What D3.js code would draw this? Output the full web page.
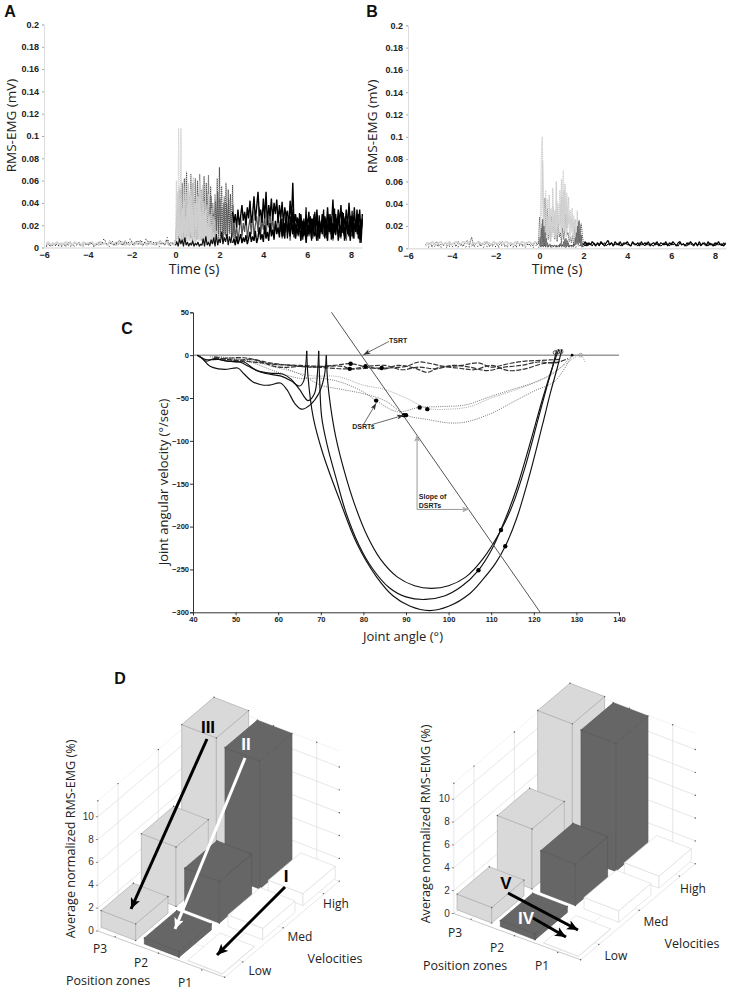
<!DOCTYPE html>
<html><head><meta charset="utf-8">
<style>html,body{margin:0;padding:0;background:#fff}svg{display:block}</style>
<script src="https://cdn.jsdelivr.net/npm/d3@7"></script></head><body><svg id="c" width="732" height="990"></svg>
<script>
// ---------- Panels A, B (values in thousandths of a mV) ----------
const emgTicksY=[0,0.02,0.04,0.06,0.08,0.1,0.12,0.14,0.16,0.18,0.2];
const emgTicksX=[-6,-4,-2,0,2,4,6,8];
const aLightBase=[3,5,2,4,3,5,2,4,3,5,3,4,2,5,3,4,2,5,3,4,3,5,2,4,3,5,3,4,2,5,3,4,2,5,3,5,2,4,3,5,2,4,3,5,3,4,2,5,3,4,2,5,3,4,3,5,2,4,3,6];
const aDarkBase=[2,3,1,4,2,3,4,2,3,1,4,5,2,4,3,5,2,3,4,2,5,3,1,4,2,5,3,4,2,6,3,2,5,3,4,2,6,3,2,5,3,4,6,3,2,5,3,6,4,2,5,3,6,4,2,7,3,5,2,7];
const aBlackBase=[1,2,1,3,1,2,1,2,3,1,2,1,3,2,1,3,2,4,1,2,5,2,8,3,1,6,2,4,7,2,5,3,8,2,6,3,7,2,8,3,6,4,3,1,5,2,9,1,4,2,8];
const aBlackBurst=[2,5,1,8,3,7,1,9,2,5,1,4,2,6,1,4,2,5,1,3,2,8,1,10,2,5,1,7,3,9,1,12,2,8,4,14,3,9,5,12,2,10,4,13];
const aLightBurst=[5,60,40,18,107,5,8,107,10,40,8,55,5,62,10,48,6,58,9,52,4,47,7,63,8,40,5,52,10,45,7,60,6,50,8,56,4,42,10,55,6,38,9,48,5,30,7,35,4,28,6,25,3,15,4];
const aLightBurst2=[7,30,50,14,55,8,44,12,35,6,48,14,28,8,50,12,38,6,42,14,52,10,34,7,44,16,36,5,48,12,40,6,44,10,32,6,40,8,26,5,34,8,22,5,28,6,18,4,20,5,10,3];
const aLightBurst3=[4,18,38,10,30,16,26,5,34,20,42,8,24,14,36,18,46,6,30,12,38,22,28,5,40,16,32,20,46,10,34,18,28,7,36,14,30,6,22,12,18,5,14,8,12,4,10,3];
const aDarkBurst=[6,20,45,8,52,10,58,12,62,8,68,15,50,10,66,9,58,12,62,14,60,8,66,11,52,15,64,7,58,10,65,12,55,9,40,14,48,8,62,12,72,10,55,7,40,12,58,9,52,14,48,10,56,8];
const aDarkBurst2=[4,12,30,6,36,8,40,7,44,6,38,10,46,8,40,6,44,9,36,7,48,10,42,6,38,8,44,6,50,12,36,8,46,10,30,6,42,10,50,8,44,12,36,5,46,10,40,7,44,12,30,8,38,6];
const aBlackUpper=[32,22,30,18,34,20,28,38,24,32,20,36,26,42,22,30,46,24,36,50,28,34,22,44,26,50,20,38,28,44,24,40,30,43,22,38,26,41,20,36,28,33,18,42,24,58,16,30,22,26,14,30,18,24,12,28,18,32,14,26,18,30,12,34,16,24,14,30,20,28,16,36,14,26,20,43,16,30,18,34,22,38,16,28,20,34,18,40,22,28,16,36,14,30,18,34,12,30];
const aBlackLower=[4,8,2,10,3,7,12,4,9,5,11,3,8,14,5,10,6,15,4,9,18,7,12,5,20,8,14,6,22,10,16,7,24,12,18,9,26,10,20,8,28,14,22,10,24,12,28,8,18,12,24,6,20,10,16,4,22,12,18,8,26,10,14,6,24,8,20,12,28,10,16,6,30,14,22,8,18,12,26,6,20,10,32,14,8,24,12,18,6,28,10,22,14,34,8,20,4,26];
const aBlackDense=[14,26,10,22,16,30,8,24,12,28,18,34,9,22,15,27,11,31,17,24,7,26,13,36,10,20,16,28,6,24,12,32,19,25,9,29,14,22,18,34,8,26,12,24,16,30,7,22,15,35,11,25,18,28,9,23,13,31,6,26,17,24,10,29,14,33,8,21,16,27,12,30,7,25];
const aGreyMid=[12,24,8,20,6,16,28,10,22,14,30,8,18,26,12,32,10,20,28,14,36,12,24,16,30,10,26,18,34,14,28,10,22,16,32,12,26,8,20,14,28,10,22,6,24,12,30,8,18,10,16,6,24,12,20,8,26,10,14,22,8,28,12,18,6,24,14,20,10,26,8,16,22,12,28,6,18,14,24,10,20,8,26,12,16,6,22,14,28,10,18,8,24,12,20,4,16,22];
const bLightBase=[4,5,3,6,4,3,5,6,3,5,4,6,3,5,6,4,3,6,5,4,6,3,5,4,6,5,3,6,4,5,3,6,5,4,6,3,5,6,4,5,3,6,5,4,6,5,3,6,5,4,6,5];
const bDarkBase=[3,5,2,4,6,2,4,3,5,2,4,3,5,2,6,3,2,5,7,3,10,2,4,6,2,5,3,6,2,4,3,5,2,4,6,3,2,5,3,4,2,6,3,4,2,5,3,4,2,6,3,7];
const bLightBurst=[6,30,80,100,40,12,30,52,14,44,8,48,16,36,10,54,20,30,12,60,18,40,14,52,22,62,28,70,24,58,30,50,18,46,22,34,14,36,10,30,18,26,12,34,8,20,10,5];
const bLightBurst2=[4,18,50,78,22,8,20,36,8,28,12,30,6,24,14,38,10,34,8,42,12,30,20,40,14,46,18,52,16,44,10,38,22,30,8,26,18,28,6,24,10,20,8,24,6,14,4];
const bDarkBurst=[4,28,10,22,5,15,45,12,35,8,20,6,28,14,26,8,18,6,22,10,14,5,20,8,16,30,12,14,6,10,5,12,4,18,8,6,10,25,18,22,12,4];
const bDarkFill=[2,10,1,18,2,26,1,20,2,14,1,9,2,5,1,3,2,4,1,3,2,3,1,2,2,3,1,2,3,1,2,3,1,4,2,5,1,3,2,6,1,8,2,9,1,7,2,5,1,3,2,3,1,2,3,1,4,2,9,3,14,4,20,3,24,5,18,2,12,1,5,1];
const bBlackBase=[3,1,2,1,3,2,1,3,1,2,1,3,1,2,4,1,2,1,3,1,2,3,1,2,1,3,1,2,1,3,2,1,3,1,2,1,3,2,1,4,2,1,3,1,2,3,1,2,1,3,1,2,3,1,2,1,4,1,2,3,1,5,2];
const bBlackTail=[3,6,2,5,3,6,4,2,5,3,6,4,2,5,7,3,5,2,6,4,3,6,2,5,4,6,3,2,6,4,3,5,2,6,3,5,3,6,2,4,5,3,6,2,5,4,3,6,2,5,3,6,4,2,5,6,3,4,2,5,3,6,4,3,5,2,6,3,4,5,2,6,3,4,2,5,3,6,3,4,2,5];
const bBlackTail2=[4,2,5,3,4,2,5,3,4,2,5,3,5,2,4,3,5,2,4,3,5,2,4,3,5,3,4,2,5,3,4,2,5,3,4,2,5,3,4,3,2,5,3,4,2,3,5,3,4,2,5,3,4,3,2,5,3,4,3,2,5,4,3,2,5,3,4,2,5,3,4,2,5,3,4,2,5,3,4,2,5,3];

// ---------- Panel C ----------
const cTicksX=[40,50,60,70,80,90,100,110,120,130,140];
const cTicksY=[50,0,-50,-100,-150,-200,-250,-300];
const fastU1=[[71.3,0],[71.6,-30],[72.3,-60],[73.5,-95],[75.5,-135],[78,-175],[81,-212],[84,-238],[88,-259],[92,-269],[96,-272],[100,-269],[104,-259],[108,-238],[112.3,-204],[115,-175],[118,-130],[121,-75],[123,-38],[124.5,-12],[125.3,5]];
const fastU2=[[69.5,5],[69.7,-25],[70.2,-72],[71.5,-105],[73.5,-142],[76,-185],[79,-222],[82,-248],[86,-271],[90,-282],[94.5,-285],[99,-281],[103,-270],[107,-251],[110,-228],[113,-195],[116,-155],[119,-105],[122,-52],[124.5,-12],[125.9,7]];
const fastU3=[[66.7,5],[67,-25],[68.2,-72],[70.5,-115],[74.5,-170],[78.5,-220],[83,-258],[87,-281],[91,-293],[95.5,-298],[100,-293],[105,-278],[108,-262],[111,-243],[113.3,-223],[116,-190],[119,-140],[122,-82],[124,-42],[125.5,-15],[126.6,7]];
const fastPre1=[[41,0],[42,-3],[43,-7],[45,-4],[47,-6],[50,-8],[52,-8],[54,-15],[56,-20],[59,-23],[61,-25],[63,-30],[65,-36],[66,-30],[66.5,-10],[66.7,5]];
const fastPre2=[[41,0],[43,-5],[46,-5],[48,-7],[51,-8],[53,-13],[55,-18],[58,-21],[61,-22],[63,-28],[65,-40],[67,-53],[68.5,-45],[69.3,-15],[69.5,5]];
const fastPre3=[[41,0],[42,-3],[44,-13],[46,-16],[48,-16.5],[50.5,-15],[52,-22],[54,-31],[56,-34.5],[58,-35],[60.5,-32.5],[62,-40],[64,-57],[65.5,-63],[67.5,-58],[69.5,-45],[70.8,-25],[71.3,0]];
const medium1=[[44,-2],[50,-5],[58,-10],[65,-22],[70,-35],[75,-40],[80,-45],[85,-53],[90,-70],[95,-75],[100,-79],[104,-78],[110,-68],[115,-55],[120,-42],[125,-30],[129,0]];
const medium2=[[45,-2],[52,-6],[60,-20],[65,-27],[70,-27],[75,-32],[80,-43],[83,-53],[88,-66],[93,-61],[98,-60],[104,-58],[110,-48],[115,-40],[120,-32],[125,-20],[129,0]];
const medium3=[[44,-1],[52,-5],[60,-15],[68,-24],[74,-25],[80,-35],[85,-40],[90,-50],[95,-62],[100,-63],[105,-60],[110,-50],[116,-40],[122,-28],[127,-12],[131,0],[132,-8]];
const slow1=[[45,-2],[48,-5],[52,-7],[56,-9],[60,-11],[65,-12],[70,-13],[75,-13],[77,-16],[82,-15],[86,-15],[90,-13],[93,-8],[96,-10],[99,-13],[103,-12],[107,-9],[110,-14],[114,-10],[118,-7],[122,-6],[126,-5]];
const slow2=[[47,-4],[52,-3],[58,-9],[63,-12],[68,-14],[73,-12],[77,-10],[81,-14],[85,-16],[88,-12],[92,-15],[95,-20],[98,-14],[102,-15],[106,-17],[110,-12],[114,-18],[118,-16],[122,-10],[126,-8]];
const slow3=[[45,-3],[50,-6],[54,-5],[60,-14],[66,-13],[72,-15],[77,-16],[81,-13],[85,-12],[89,-17],[93,-14],[97,-16],[101,-12],[105,-14],[109,-18],[113,-14],[117,-12],[121,-8],[125,-9],[128,-4]];
const dsrtDots=[[77,-10],[76.8,-16],[80.5,-13],[84.3,-15],[83,-53],[89.5,-70],[90,-70],[93.2,-61],[95,-63],[107,-251],[112.3,-204],[113.3,-223]];
const endRings=[[125,3],[125.7,4],[126.4,4],[131,0]];
const slopeLine=[[72.5,50],[121.5,-300]];

// ---------- Panel D ----------
const heightsLeft={light:[1.46,5.2,11.75],dark:[0.52,3.64,11.2],blank:[0.02,1,1.05]};
const heightsRight={light:[1.37,5.25,11.45],dark:[0.52,3.64,11.2],blank:[0.02,1,1.05]};
const zTicks=[0,2,4,6,8,10];
const posLabels=["P3","P2","P1"];
const velLabels=["Low","Med","High"];

const svg=d3.select("#c");
svg.append("rect").attr("width",732).attr("height",990).attr("fill","#fff");
const FS="Liberation Sans, Arial, sans-serif";
const LS="'Open Sans', sans-serif";
const defs=svg.append("defs");
function mk(id,color,w,h){
  defs.append("marker").attr("id",id).attr("viewBox",`0 0 ${w} ${h}`).attr("refX",w).attr("refY",h/2)
    .attr("markerWidth",w).attr("markerHeight",h).attr("markerUnits","userSpaceOnUse").attr("orient","auto")
    .append("path").attr("d",`M0,0L${w},${h/2}L0,${h}L${w*0.25},${h/2}Z`).attr("fill",color);
}
mk("hk","#333",7,5);mk("hg","#aaa",7,6);mk("hb","#000",11,10);mk("hw","#fff",11,10);

function text(x,y,s,o={}){
  const t=svg.append("text").attr("x",x).attr("y",y).text(s)
    .attr("font-family",o.font||LS).attr("font-size",o.size||13).attr("fill",o.fill||"#222")
    .attr("text-anchor",o.anchor||"middle").attr("font-weight",o.weight||400);
  if(o.rot) t.attr("transform",`rotate(${o.rot} ${x} ${y})`);
  return t;
}

// ---------- EMG panel ----------
function emgPanel(r,traces){
  const x=d3.scaleLinear().domain([-6,8.5]).range([r.x0,r.x0+14.5*21.93]);
  const y=d3.scaleLinear().domain([0,0.2]).range([r.y0,r.y0-223]);
  const line=d3.line().x(d=>d[0]).y(d=>d[1]);
  const g=svg.append("g");
  traces.forEach(tr=>{
    const pts=tr.v.map((v,i)=>[x(tr.t0+i*tr.dt),y(v*0.001)]);
    g.append("path").attr("d",line(pts)).attr("fill","none").attr("stroke",tr.c).attr("stroke-width",tr.w)
      .attr("stroke-dasharray",tr.dash||null).attr("stroke-linejoin","bevel");
  });
  const ay=svg.append("g").attr("transform",`translate(${r.x0},0)`).call(d3.axisLeft(y).tickValues(emgTicksY).tickSize(2).tickFormat(d=>d===0?"0":String(d)));
  const ax=svg.append("g").attr("transform",`translate(0,${r.y0})`).call(d3.axisBottom(x).tickValues(emgTicksX).tickSize(0).tickPadding(4));
  [ay,ax].forEach(a=>{a.select(".domain").attr("stroke","#ddd");a.selectAll(".tick line").attr("stroke","#aaa");
    a.selectAll("text").attr("font-family",FS).attr("font-size",9).attr("font-weight",700).attr("fill","#222");});
  ax.select(".domain").attr("stroke","#e2e2e2").attr("stroke-width",1.5);
  text(r.labelX,r.y0-122,"RMS-EMG (mV)",{rot:-90,size:13.5});
  text(r.timeX,r.y0+26,"Time (s)",{size:14});
}
const D2="1.2 0.8";
emgPanel({x0:44,y0:247.5,labelX:16,timeX:194},[
  {t0:-5.9,dt:0.1,v:aDarkBase,c:"#555",w:1,dash:D2},
  {t0:0,dt:0.05,v:aDarkBurst,c:"#555",w:1.1,dash:D2},
  {t0:0.02,dt:0.05,v:aDarkBurst2,c:"#555",w:1.1,dash:D2},
  {t0:-5.9,dt:0.1,v:aLightBase,c:"#d2d2d2",w:1.8},
  {t0:0,dt:0.035,v:aLightBurst,c:"#ccc",w:1.1,dash:D2},
  {t0:0.02,dt:0.034,v:aLightBurst2,c:"#d0d0d0",w:1.6,dash:D2},
  {t0:0.03,dt:0.036,v:aLightBurst3,c:"#cfcfcf",w:1.8,dash:D2},
  {t0:-5.9,dt:0.12,v:aBlackBase,c:"#111",w:1,dash:"1 2.5"},
  {t0:0,dt:0.06,v:aBlackBurst,c:"#111",w:1.2},
  {t0:2.6,dt:0.061,v:aGreyMid,c:"#555",w:1.2},
  {t0:2.6,dt:0.061,v:aBlackLower,c:"#000",w:1.4},
  {t0:4.8,dt:0.05,v:aBlackDense,c:"#000",w:1.2},
  {t0:2.6,dt:0.061,v:aBlackUpper,c:"#000",w:1.4}
]);
emgPanel({x0:408,y0:248.3,labelX:377,timeX:557},[
  {t0:-5.1,dt:0.1,v:bDarkBase,c:"#555",w:1,dash:D2},
  {t0:-5.2,dt:0.1,v:bLightBase,c:"#d2d2d2",w:1.5},
  {t0:-0.05,dt:0.05,v:bDarkBurst,c:"#555",w:1,dash:D2},
  {t0:0,dt:0.04,v:bLightBurst,c:"#ccc",w:1.3,dash:D2},
  {t0:0.02,dt:0.04,v:bLightBurst2,c:"#d0d0d0",w:1.6,dash:D2},
  {t0:0,dt:0.028,v:bDarkFill,c:"#666",w:0.9},
  {t0:-5.2,dt:0.12,v:bBlackBase,c:"#111",w:1,dash:"1 2.5"},
  {t0:2,dt:0.08,v:bBlackTail,c:"#000",w:1.2},
  {t0:2,dt:0.08,v:bBlackTail2,c:"#000",w:1}
]);

// ---------- Panel C ----------
const cx=d3.scaleLinear().domain([40,140]).range([193,619]);
const cy=d3.scaleLinear().domain([-300,50]).range([612.3,312.3]);
const cLine=d3.line().x(d=>cx(d[0])).y(d=>cy(d[1])).curve(d3.curveCatmullRom.alpha(0.5));
const cg=svg.append("g");
const straight=d3.line().x(d=>cx(d[0])).y(d=>cy(d[1]));
cg.append("path").attr("d",straight([[40,0],[140,0]])).attr("stroke","#666").attr("stroke-width",1).attr("fill","none");
[[medium1,"#666"],[medium2,"#666"],[medium3,"#999"]].forEach(([d,c])=>cg.append("path").attr("d",cLine(d)).attr("fill","none").attr("stroke",c).attr("stroke-width",0.9).attr("stroke-dasharray","1 1.2"));
[slow1,slow2,slow3].forEach(d=>cg.append("path").attr("d",cLine(d)).attr("fill","none").attr("stroke","#333").attr("stroke-width",1.2).attr("stroke-dasharray","5 1.5"));
[fastPre1,fastPre2,fastPre3,fastU1,fastU2,fastU3].forEach(d=>cg.append("path").attr("d",cLine(d)).attr("fill","none").attr("stroke","#111").attr("stroke-width",1.15));
cg.append("path").attr("d",straight(slopeLine)).attr("stroke","#555").attr("stroke-width",1).attr("fill","none");
cg.selectAll(".dsrt").data(dsrtDots).join("circle").attr("cx",d=>cx(d[0])).attr("cy",d=>cy(d[1])).attr("r",2.2).attr("fill","#000");
cg.selectAll(".ring").data(endRings).join("circle").attr("cx",d=>cx(d[0])).attr("cy",d=>cy(d[1])).attr("r",1.9).attr("fill","none").attr("stroke",(d,i)=>i==3?"#999":"#333").attr("stroke-width",0.8);
cg.append("circle").attr("cx",cx(129)).attr("cy",cy(0)).attr("r",1.3).attr("fill","#000");
const cay=svg.append("g").attr("transform","translate(193,0)").call(d3.axisLeft(cy).tickValues(cTicksY).tickSize(3).tickPadding(1));
const cax=svg.append("g").attr("transform","translate(0,612.3)").call(d3.axisBottom(cx).tickValues(cTicksX).tickSize(3).tickPadding(1));
[cay,cax].forEach(a=>{a.select(".domain").attr("stroke","#333");a.selectAll(".tick line").attr("stroke","#333");
  a.selectAll("text").attr("font-family",FS).attr("font-size",7.5).attr("font-weight",700).attr("fill","#222");});
text(168,482,"Joint angular velocity (°/sec)",{rot:-90,size:13});
text(403,641,"Joint angle (°)",{size:13});
function cAnn(from,to,marker,color,w){
  svg.append("line").attr("x1",cx(from[0])).attr("y1",cy(from[1])).attr("x2",cx(to[0])).attr("y2",cy(to[1]))
    .attr("stroke",color).attr("stroke-width",w).attr("marker-end",marker?`url(#${marker})`:null);
}
cAnn([86,16],[80,0.5],"hk","#444",0.8);
text(cx(86),cy(14),"TSRT",{font:FS,size:7,weight:700,anchor:"start"});
text(cx(77.4),cy(-86.5),"DSRTs",{font:FS,size:7,weight:700,anchor:"start"});
cAnn([80,-81],[83,-56],"hk","#444",0.8);
cAnn([82,-81],[89.5,-70],"hk","#444",0.8);
cAnn([92.6,-180],[92.6,-93],"hg","#aaa",1.2);
cAnn([92.6,-180],[104.8,-180],"hg","#999",1);
text(cx(93),cy(-168),"Slope of",{font:FS,size:7,weight:700,anchor:"start"});
text(cx(93),cy(-178),"DSRTs",{font:FS,size:7,weight:700,anchor:"start"});

// ---------- Panel D ----------
const stepPX=d3.scaleLinear().domain([0,1]).range([0,43.33]);
const stepPY=d3.scaleLinear().domain([0,1]).range([0,16.67]);
const stepVX=d3.scaleLinear().domain([0,1]).range([0,40.33]);
const stepVY=d3.scaleLinear().domain([0,1]).range([0,-34.17]);
const stepZ=d3.scaleLinear().domain([0,1]).range([0,-11.43]);
function panelD(ox,oy,h,lab){
  const P=(p,v,z)=>[ox+stepPX(p)+stepVX(v),oy+stepPY(p)+stepVY(v)+stepZ(z)];
  const g=svg.append("g");
  const seg=(a,b,c="#ddd",w=0.7)=>g.append("line").attr("x1",a[0]).attr("y1",a[1]).attr("x2",b[0]).attr("y2",b[1]).attr("stroke",c).attr("stroke-width",w);
  const dot=(a)=>g.append("circle").attr("cx",a[0]).attr("cy",a[1]).attr("r",0.7).attr("fill","#555");
  const p0=0.12,p1=3.02,v0=0,v1=2.87;
  zTicks.forEach(z=>{seg(P(p0,v0,z),P(p0,v1,z));seg(P(p0,v1,z),P(p1,v1,z));dot(P(p1,v1,z));});
  seg(P(p0,v0,0),P(p0,v0,11.4));seg(P(p0,v1,0),P(p0,v1,11.4));seg(P(p0,v0,11.4),P(p0,v1,11.4),"#eee");seg(P(p0,v1,11.4),P(p1,v1,11.4),"#eee");
  [0.5,1.5,2.5].forEach(v=>{seg(P(p0,v,0),P(p0,v,11.4));dot(P(p0,v,11.4));});
  [0.5,1.5,2.5].forEach(p=>{seg(P(p,v1,0),P(p,v1,11.4));dot(P(p,v1,11.4));});
  dot(P(p0,v0,11.4));dot(P(p0,v1,11.4));
  seg(P(p0,v0,0),P(3,0.05,0),"#bbb",0.8);seg(P(3,0.05,0),P(p1,v1,0),"#ddd");
  [0.5,1.5,2.5].forEach(p=>{seg(P(p,0.03,0),P(p,v1,0),"#e6e6e6");dot(P(p,0.02,0));});
  [0.5,1.5,2.5].forEach(v=>{seg(P(p0,v,0),P(3,v,0),"#e6e6e6");dot(P(3,v,0));});
  dot(P(3,0.05,0));
  const styles={light:{f:"#d9d9d9",s:"#aeaeae"},dark:{f:"#666",s:"#585858"},blank:{f:"#fff",s:"#dcdcdc"}};
  const cols=["light","dark","blank"];
  [2,1,0].forEach(v=>{
    cols.forEach((c,i)=>{
      const z=h[c][v],a=i+0.1,b=i+0.9,m=v+0.1,n=v+0.9,st=styles[c];
      const poly=pts=>g.append("polygon").attr("points",pts.map(q=>q.join(",")).join(" ")).attr("fill",st.f).attr("stroke",st.s).attr("stroke-width",0.7).attr("stroke-linejoin","round");
      poly([P(a,m,0),P(b,m,0),P(b,m,z),P(a,m,z)]);
      poly([P(b,m,0),P(b,n,0),P(b,n,z),P(b,m,z)]);
      poly([P(a,m,z),P(b,m,z),P(b,n,z),P(a,n,z)]);
      if(c!=="blank"){[P(a,m,z),P(b,m,z),P(b,n,z),P(a,n,z),P(b,m,0)].forEach(dot);}
    });
  });
  zTicks.forEach(z=>{const q=P(p0,v0,z);
    g.append("text").attr("x",q[0]-4).attr("y",q[1]+3).attr("text-anchor","end").attr("font-family","'Liberation Sans Narrow',"+FS).attr("font-size",10).attr("fill","#333").text(z);
    seg([q[0]-2,q[1]],q,"#666",0.8);});
  text(lab.axisX,lab.axisY,"Average normalized RMS-EMG (%)",{rot:-90,size:12.6});
  posLabels.forEach((s,i)=>text(lab.pos[i][0],lab.pos[i][1],s,{size:12}));
  velLabels.forEach((s,i)=>text(lab.vel[i][0],lab.vel[i][1],s,{size:12}));
  text(lab.zones[0],lab.zones[1],"Position zones",{size:12.5});
  text(lab.velo[0],lab.velo[1],"Velocities",{size:12.5});
}
panelD(92.67,929,heightsLeft,{axisX:75,axisY:839,pos:[[100,953],[141,967],[185,987]],vel:[[260,975],[300,941],[336,908]],zones:[108,985],velo:[335,963]});
panelD(448.67,911.5,heightsRight,{axisX:430,axisY:824,pos:[[455,937],[497,952],[542,970]],vel:[[616,960],[656,926],[693,893]],zones:[465,969.5],velo:[692,948]});

function arrowD(x1,y1,x2,y2,col,mark){
  svg.append("line").attr("x1",x1).attr("y1",y1).attr("x2",x2).attr("y2",y2).attr("stroke",col).attr("stroke-width",3).attr("marker-end",`url(#${mark})`);
}
arrowD(207,739,131,909,"#000","hb");
arrowD(245,758,175,929,"#fff","hw");
arrowD(285,887,217,955,"#000","hb");
text(208,733,"III",{font:FS,size:17,weight:700,fill:"#000"});
text(246,750,"II",{font:FS,size:17,weight:700,fill:"#fff"});
text(286,882,"I",{font:FS,size:17,weight:700,fill:"#000"});
arrowD(508,893,578,930,"#000","hb");
arrowD(533,918,566,937,"#000","hb");
text(506,889,"V",{font:FS,size:17,weight:700,fill:"#000"});
text(526,924,"IV",{font:FS,size:17,weight:700,fill:"#fff"});

[["A",10,17],["B",372,17],["C",127,334],["D",120,684]].forEach(d=>text(d[1],d[2],d[0],{font:FS,size:16,weight:700,fill:"#111"}));
</script></body></html>
